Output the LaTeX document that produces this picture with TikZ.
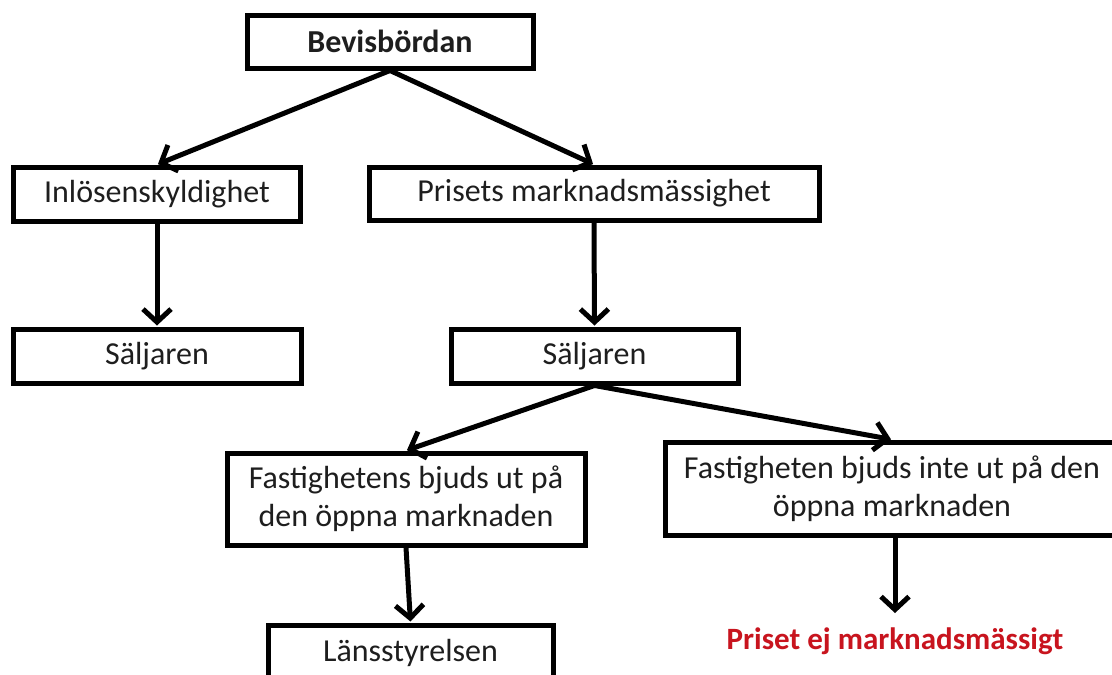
\documentclass[tikz,border=0pt]{standalone}
\usepackage{fontspec}
\setmainfont{Carlito}
\usetikzlibrary{arrows.meta}
\definecolor{redtext}{RGB}{200,20,30}
\definecolor{txt}{RGB}{30,30,30}
\begin{document}
\begin{tikzpicture}[x=1pt,y=-1pt,
  box/.style={draw=black,line width=5pt,fill=white,inner sep=2pt,align=center,
    text=txt,font=\fontsize{32}{38}\selectfont},
  conn/.style={line width=5pt,-{Straight Barb[length=13pt,width=28pt,line width=5pt]},shorten >=1pt}]
\path[use as bounding box,clip] (0,0) rectangle (1112,675);
\fill[white] (0,0) rectangle (1112,675);
\node[box,minimum width=286pt,minimum height=53pt,font=\fontsize{32}{38}\selectfont\bfseries] (bev) at (390,41.5) {Bevisbördan};
\node[box,minimum width=287pt,minimum height=54pt] (inl) at (157,194) {Inlösenskyldighet};
\node[box,minimum width=450pt,minimum height=53pt] (pris) at (594,193.5) {Prisets marknadsmässighet};
\node[box,minimum width=288pt,minimum height=54pt] (sal1) at (157,356) {Säljaren};
\node[box,minimum width=287pt,minimum height=54pt] (sal2) at (594.5,356) {Säljaren};
\node[box,minimum width=358pt,minimum height=92pt] (fast1) at (406,499) {Fastighetens bjuds ut på\\den öppna marknaden};
\node[box,minimum width=454pt,minimum height=93pt] (fast2) at (892,488.5) {Fastigheten bjuds inte ut på den\\öppna marknaden};
\node[box,minimum width=285pt,minimum height=56pt] (lans) at (410.5,653) {Länsstyrelsen};
\node[text=redtext,font=\fontsize{31}{38}\selectfont\bfseries,inner sep=0pt,anchor=north] (red) at (895,628) {Priset ej marknadsmässigt};
\draw[conn] (bev.south) -- (inl.north);
\draw[conn] (bev.south) -- (pris.north);
\draw[conn] (inl.south) -- (sal1.north);
\draw[conn] (pris.south) -- (sal2.north);
\draw[conn] (sal2.south) -- (fast1.north);
\draw[conn] (sal2.south) -- (fast2.north);
\draw[conn] (fast1.south) -- (lans.north);
\draw[conn] ([xshift=3pt]fast2.south) -- ([yshift=14pt]red.north);
\end{tikzpicture}
\end{document}
